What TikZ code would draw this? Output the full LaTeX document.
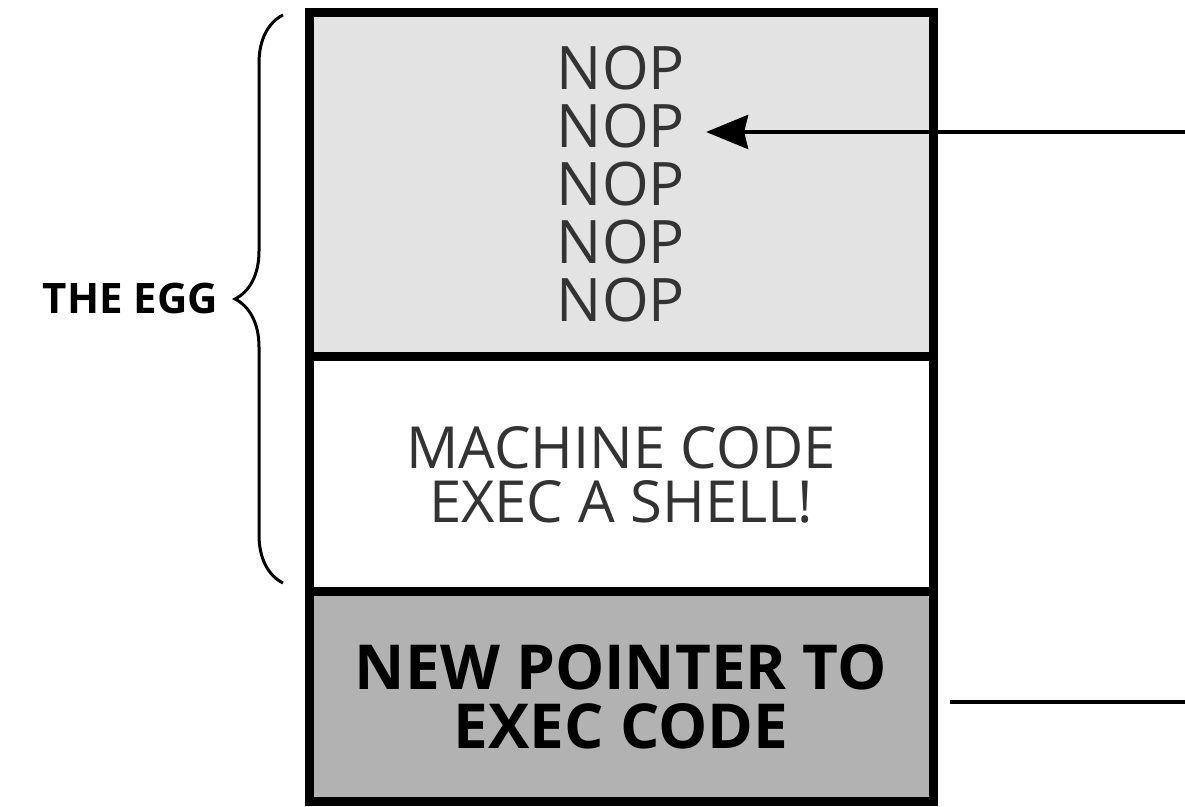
\documentclass[tikz,border=0pt]{standalone}
\usepackage{fontspec}
\setmainfont{Open Sans}
\usetikzlibrary{positioning,arrows.meta,decorations.pathreplacing}
\definecolor{eggtop}{gray}{0.89}
\definecolor{ptrgray}{gray}{0.70}

\begin{document}
\begin{tikzpicture}[x=0.5pt,y=-0.5pt,
    part/.style={draw,line width=4.5pt,inner sep=0pt,outer sep=0pt,minimum width=312pt,align=center},%
    nop/.style={font=\fontsize{30}{30}\selectfont,text=black!80},%
    f/.style={-{Stealth[length=21pt,width=17pt,inset=2pt]},line width=2pt},%
    b/.style={decorate,decoration={brace,amplitude=24pt},line width=1.5pt}]
    \useasboundingbox (0,0) rectangle (1185,807);
    % the stack
    \node[part,fill=eggtop,minimum height=172pt] (Nop) at (621,185) {};
    \node[part,fill=white,minimum height=117.5pt,text=black!80,
      font=\fontsize{29}{27}\selectfont] (Code) at (621,474.5) {MACHINE CODE\\EXEC A SHELL!};
    \node[part,fill=ptrgray,minimum height=105pt,
      font=\bfseries\fontsize{31}{29.5}\selectfont] (Ptr) at (621,697) {NEW POINTER TO\\EXEC CODE};
    \foreach \i in {1,...,5}
      \node[nop] (N\i) at (621,{10+58*\i}) {NOP};
    % pointers
    \coordinate (In) at (1185,132);
    \coordinate (Out) at (1185,702);
    \draw[f,shorten >=7pt] (In) -- (In -| N2.east);
    \draw[line width=1.8pt,shorten <=8.5pt] (Ptr.east |- Out) -- (Out);
    % the egg
    \draw[b] (283,583) -- (283,15);
    \coordinate (Tip) at (235,299);
    \node[font=\bfseries\fontsize{21}{21}\selectfont,left=5pt of Tip] (Egg) {THE EGG};
\end{tikzpicture}
\end{document}
